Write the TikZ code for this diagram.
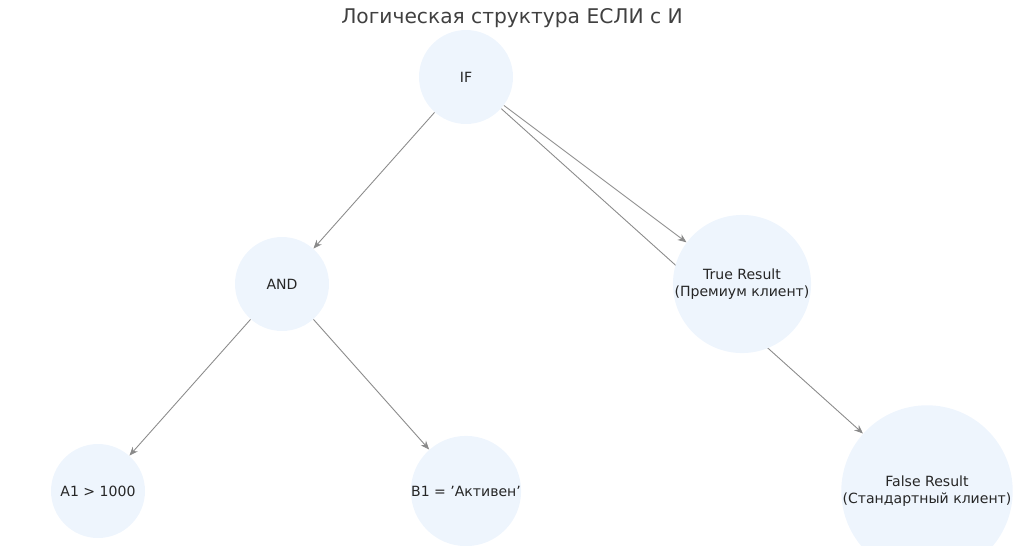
\documentclass[tikz,border=0pt]{standalone}
\usepackage{fontspec}
\setmainfont{DejaVu Sans}
\usetikzlibrary{arrows.meta}
\pgfdeclarelayer{bg}
\pgfsetlayers{bg,main}
\definecolor{nodefill}{HTML}{EEF5FD}
\definecolor{edgegray}{HTML}{8A8A8A}
\begin{document}
\begin{tikzpicture}
        [x=0.02cm,y=-0.02cm,every node/.style={shape=circle,fill=nodefill,minimum size=1.88cm,inner sep=0,align=center,font=\fontsize{8}{9.5}\selectfont,text=black!85}]

        \useasboundingbox (0,0) rectangle (1024,545);
        \node[fill=none,minimum size=0pt,font=\fontsize{11.5}{13}\selectfont,text=black!75] (title) at (512,18) {Логическая структура ЕСЛИ с И};

        \node (if) at (466,77) {IF};
        \node (and) at (282,284) {AND};
        \node (true) at (742,284) {True Result\\(Премиум клиент)};
        \node (a1) at (98,491) {A1 > 1000};
        \node (b1) at (466,491) {B1 = 'Активен'};
        \node (false) at (927,491) {False Result\\(Стандартный клиент)};

        \begin{pgfonlayer}{bg}
        \begin{scope}[draw=edgegray,line width=0.5pt,-{Stealth[length=5pt,width=4pt]}]
        \draw (if) -- (and);
        \draw (if) -- (true);
        \draw (if) -- (false);
        \draw (and) -- (a1);
        \draw (and) -- (b1);
        \end{scope}
        \end{pgfonlayer}
      \end{tikzpicture}
\end{document}
